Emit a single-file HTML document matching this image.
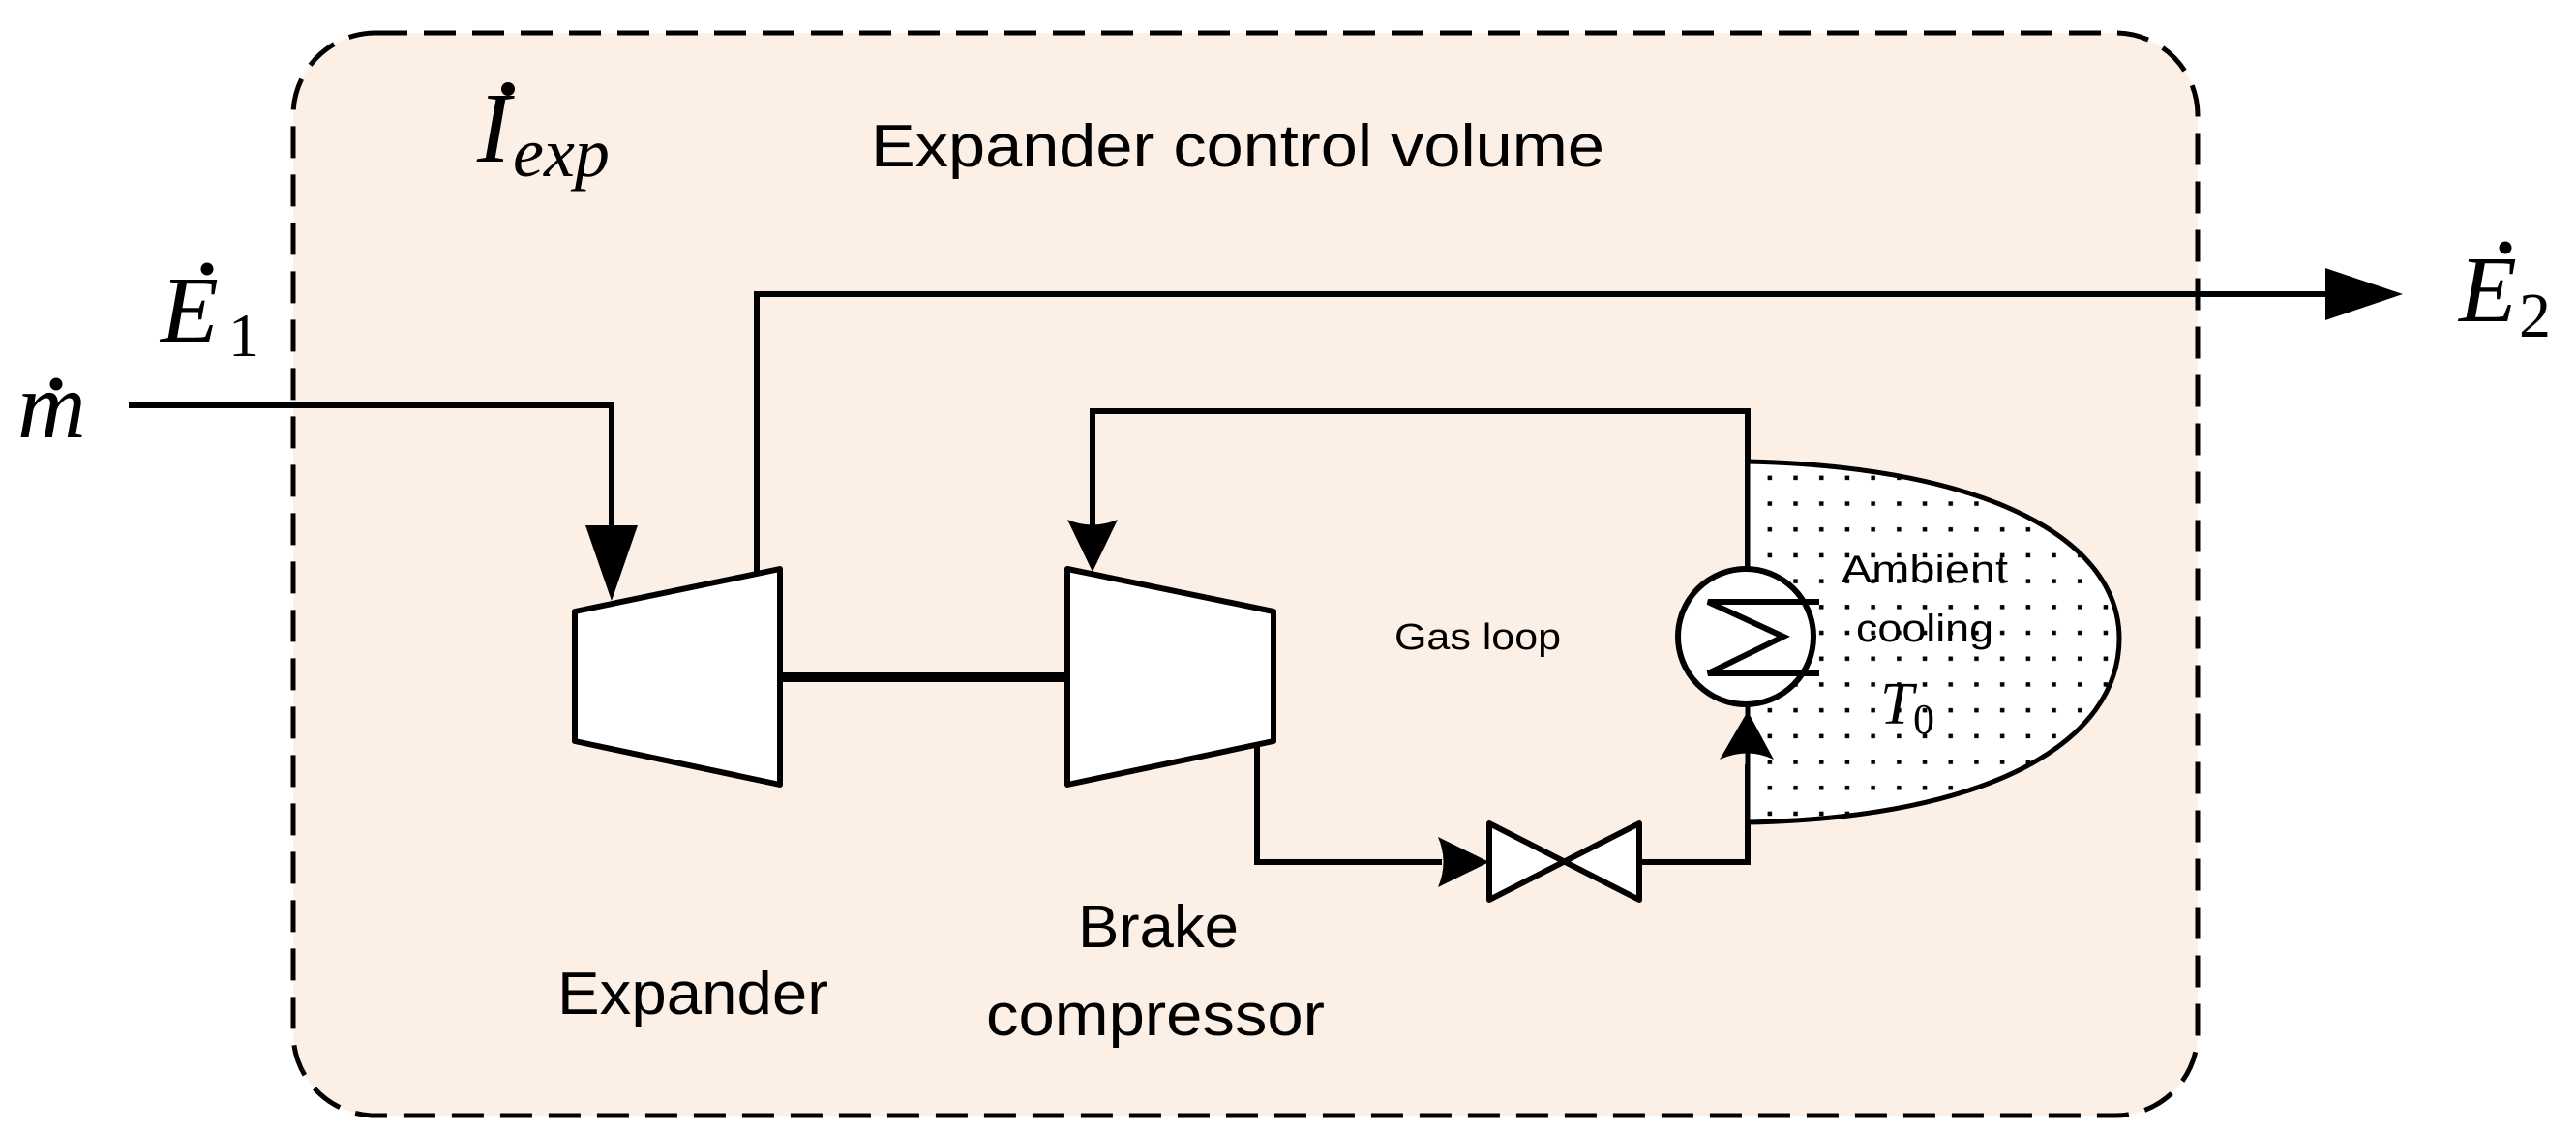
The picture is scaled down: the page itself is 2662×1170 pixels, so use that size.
<!DOCTYPE html>
<html><head><meta charset="utf-8"><style>
html,body{margin:0;padding:0;background:#fff;}
svg{display:block;}
.s{font-family:"Liberation Sans",sans-serif;fill:#000;}
.m{font-family:"Liberation Serif",serif;font-style:italic;fill:#000;}
.r{font-family:"Liberation Serif",serif;fill:#000;}
</style></head><body>
<svg width="2662" height="1170" viewBox="0 0 2662 1170" xmlns="http://www.w3.org/2000/svg">
<defs>
<pattern id="dots" x="0" y="0" width="26.7" height="26.7" patternUnits="userSpaceOnUse">
<rect x="11" y="11" width="4.5" height="4.5" fill="#000"/>
</pattern>
</defs>
<rect x="303" y="34" width="1968" height="1119" rx="85" ry="85" fill="#fcefe6" stroke="#000" stroke-width="5" stroke-dasharray="33,17"/>

<!-- I_exp -->
<text class="m" x="493" y="167" font-size="104">I</text>
<circle cx="525" cy="92" r="7" fill="#000"/>
<text class="m" x="530" y="182" font-size="72">exp</text>

<text class="s" x="900" y="172" font-size="62" textLength="758" lengthAdjust="spacingAndGlyphs">Expander control volume</text>

<!-- E1 -->
<text class="m" x="166" y="353" font-size="98">E</text>
<circle cx="214" cy="278" r="6.5" fill="#000"/>
<text class="r" x="236" y="368" font-size="64">1</text>
<!-- m dot -->
<text class="m" x="18" y="452" font-size="98">m</text>
<circle cx="58" cy="397" r="6.5" fill="#000"/>

<!-- E2 -->
<text class="m" x="2541" y="332" font-size="98">E</text>
<circle cx="2589" cy="256" r="6.5" fill="#000"/>
<text class="r" x="2603" y="348" font-size="66">2</text>

<g fill="none" stroke="#000" stroke-width="6" stroke-linejoin="miter">
<polyline points="133,419 632,419 632,548"/>
<polyline points="782,591 782,304 2405,304"/>
<polyline points="1806,658 1806,425 1129,425 1129,545"/>
<polyline points="1299,771 1299,891 1490,891"/>
<polyline points="1694,891 1806,891 1806,790"/>
<line x1="1806" y1="850" x2="1806" y2="790"/>
</g>

<line x1="806" y1="700" x2="1103" y2="700" stroke="#000" stroke-width="10"/>

<polygon points="594,632 806,588 806,811 594,766" fill="#fff" stroke="#000" stroke-width="6" stroke-linejoin="round"/>
<polygon points="1103,588 1316,632 1316,766 1103,811" fill="#fff" stroke="#000" stroke-width="6" stroke-linejoin="round"/>

<polygon points="605,543 659,543 632,621" fill="#000"/>
<polygon points="2403,277 2483,304 2403,331" fill="#000"/>
<path d="M1103,537 Q1129,548 1155,537 L1129,591 Z" fill="#000"/>
<path d="M1486,865 Q1497,891 1486,917 L1539,891 Z" fill="#000"/>

<polygon points="1539,851 1694,930 1694,851 1539,930" fill="#fff" stroke="#000" stroke-width="6" stroke-linejoin="round"/>

<path d="M1806,477 C2060,483 2190,560 2190,660 C2190,765 2060,845 1806,850 Z" fill="#fff"/>
<path d="M1806,477 C2060,483 2190,560 2190,660 C2190,765 2060,845 1806,850 Z" fill="url(#dots)" stroke="#000" stroke-width="5"/>

<path d="M1777,785 Q1806,772 1833,785 L1806,735 Z" fill="#000"/>

<circle cx="1804" cy="658" r="70" fill="#fff" stroke="#000" stroke-width="6"/>
<polyline points="1880,622 1765,622 1843,658 1765,696 1880,696" fill="none" stroke="#000" stroke-width="6" stroke-linejoin="miter"/>

<text class="s" x="1903" y="602" font-size="40" textLength="172" lengthAdjust="spacingAndGlyphs">Ambient</text>
<text class="s" x="1918" y="663" font-size="40" textLength="142" lengthAdjust="spacingAndGlyphs">cooling</text>
<text class="m" x="1943" y="748" font-size="62">T</text>
<text class="r" x="1977" y="758" font-size="44">0</text>

<text class="s" x="1441" y="671" font-size="38" textLength="172" lengthAdjust="spacingAndGlyphs">Gas loop</text>

<text class="s" x="576" y="1048" font-size="62" textLength="280" lengthAdjust="spacingAndGlyphs">Expander</text>
<text class="s" x="1114" y="979" font-size="62" textLength="166" lengthAdjust="spacingAndGlyphs">Brake</text>
<text class="s" x="1019" y="1070" font-size="62" textLength="350" lengthAdjust="spacingAndGlyphs">compressor</text>
</svg>
</body></html>
